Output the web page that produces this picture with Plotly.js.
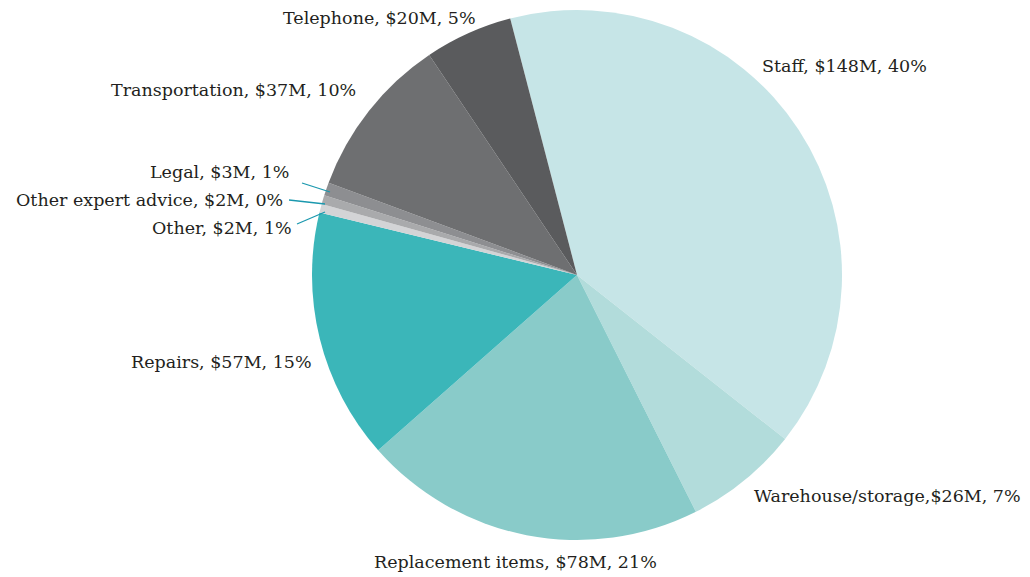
<!DOCTYPE html>
<html>
<head>
<meta charset="utf-8">
<script src="https://cdn.plot.ly/plotly-3.0.1.min.js"></script>
<style>html,body{margin:0;padding:0;background:#fff}#chart{width:1030px;height:577px}</style>
</head>
<body>
<div id="chart"></div>
<script>
const categories = ["Staff", "Warehouse/storage", "Replacement items", "Repairs", "Other", "Other expert advice", "Legal", "Transportation", "Telephone"];
const values = [148, 26, 78, 57, 2, 2, 3, 37, 20];
const labelTexts = ["Staff, $148M, 40%", "Warehouse/storage,$26M, 7%", "Replacement items, $78M, 21%", "Repairs, $57M, 15%", "Other, $2M, 1%", "Other expert advice, $2M, 0%", "Legal, $3M, 1%", "Transportation, $37M, 10%", "Telephone, $20M, 5%"];
const colors = ["#c6e5e7", "#b2dcdb", "#89cbc9", "#3bb6b9", "#d3d4d6", "#a9aaac", "#8d8e91", "#6e6f71", "#5a5b5d"];

const W = 1030, H = 577;
const px = x => x / W, py = y => 1 - y / H;
// label placement (pixels): [x, y, xanchor]
const labelPos = [
  [760, 66, "left"], [752, 496, "left"], [515, 562, "center"], [314, 362, "right"],
  [294, 228, "right"], [285, 200, "right"], [291, 172, "right"], [358, 90, "right"], [478, 18, "right"]
];
const annotations = labelTexts.map((t, i) => ({
  text: t, x: px(labelPos[i][0]), y: py(labelPos[i][1]), xref: "paper", yref: "paper",
  xanchor: labelPos[i][2], yanchor: "middle", showarrow: false,
  font: {family: "DejaVu Serif", size: 17.5, color: "#231f20"}
}));
const leaders = [[302, 183, 330, 192], [289, 200, 325, 204], [297, 224, 325, 212]];
const shapes = leaders.map(l => ({
  type: "line", xref: "paper", yref: "paper", x0: px(l[0]), y0: py(l[1]), x1: px(l[2]), y1: py(l[3]),
  line: {color: "#1a98ae", width: 1.3}
}));

Plotly.newPlot("chart", [{
  type: "pie", labels: categories, values: values, sort: false, direction: "clockwise",
  rotation: -14.6, marker: {colors: colors, line: {width: 0}}, textinfo: "none",
  hoverinfo: "label+value", showlegend: false,
  domain: {x: [px(312), px(842)], y: [py(540), py(10)]}
}], {
  width: W, height: H, margin: {l: 0, r: 0, t: 0, b: 0},
  paper_bgcolor: "#fff", annotations: annotations, shapes: shapes, showlegend: false
}, {displayModeBar: false, staticPlot: true});
</script>
</body>
</html>
